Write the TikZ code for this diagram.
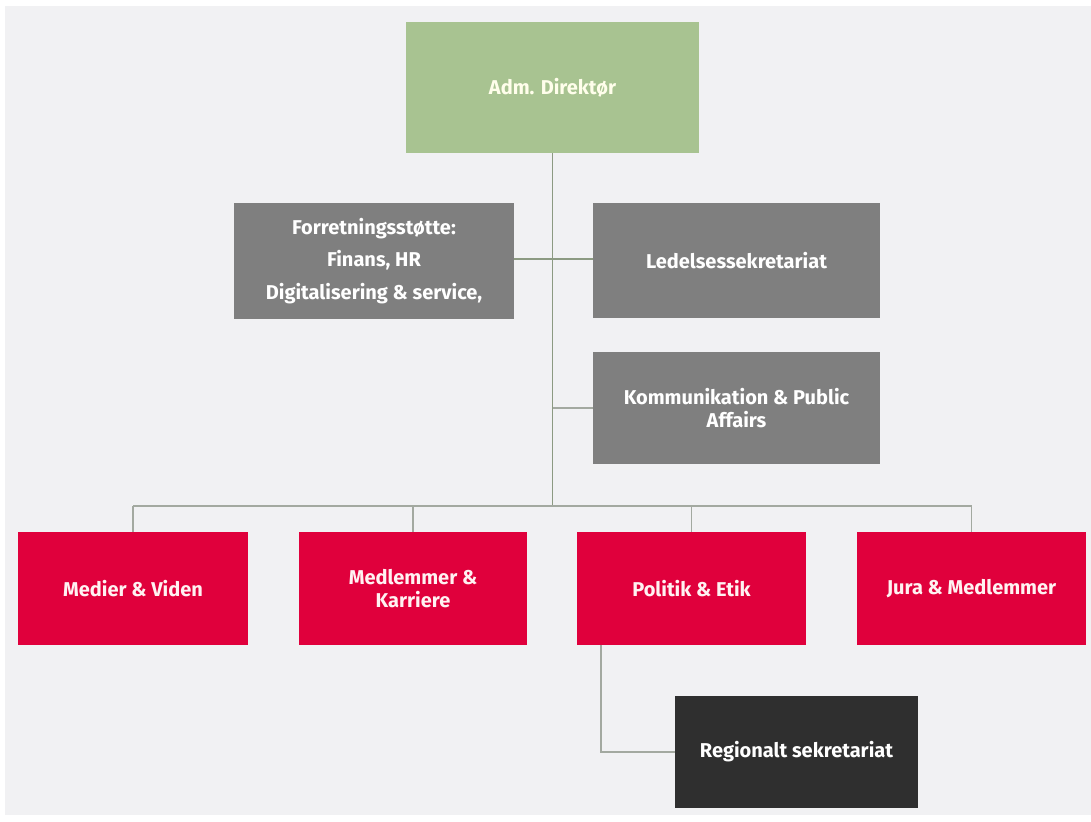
\documentclass[tikz,border=0pt]{standalone}
\usepackage{fontspec}
\setmainfont{Fira Sans}
\definecolor{bg}{HTML}{F1F1F3}
\definecolor{dirgreen}{HTML}{A8C391}
\definecolor{midgrey}{HTML}{7F7F7F}
\definecolor{redbox}{HTML}{E0003C}
\definecolor{darkbox}{HTML}{2F2F2F}
\definecolor{trunkline}{HTML}{8C9A82}
\definecolor{busline}{HTML}{A3A9A0}
\tikzset{
  box/.style={draw=none, text=white, align=center, inner sep=2pt,
    font=\fontsize{20}{24}\selectfont\bfseries},
  dirbox/.style={box, fill=dirgreen, text=white!92!yellow},
  greybox/.style={box, fill=midgrey},
  deptbox/.style={box, fill=redbox, text=white!95!red},
  regbox/.style={box, fill=darkbox},
  conn/.style={draw=trunkline, line width=1.8pt},
  busconn/.style={draw=busline, line width=1.8pt}
}
\begin{document}
\begin{tikzpicture}[x=1pt,y=-1pt]
\useasboundingbox (0,0) rectangle (1091,821);
\fill[white] (0,0) rectangle (1091,821);
\fill[bg] (5,6) rectangle (1091,815);

\node[dirbox, minimum width=293pt, minimum height=131pt] (dir) at (552.5,87.5) {Adm. Direktør};
\node[greybox, minimum width=280pt, minimum height=116pt, font=\fontsize{20}{32.5}\selectfont\bfseries] (fs) at (374,261) {Forretningsstøtte:\\Finans, HR\\Digitalisering \& service,};
\node[greybox, minimum width=287pt, minimum height=115pt] (led) at (736.5,260.5) {Ledelsessekretariat};
\node[greybox, minimum width=287pt, minimum height=112pt, font=\fontsize{20}{23}\selectfont\bfseries] (kom) at (736.5,408) {Kommunikation \& Public\\Affairs};

\node[deptbox, minimum width=230pt, minimum height=113pt] (med) at (133,588.5) {Medier \& Viden};
\node[deptbox, minimum width=228pt, minimum height=113pt, font=\fontsize{20}{23}\selectfont\bfseries] (mk) at (413,588.5) {Medlemmer \&\\Karriere};
\node[deptbox, minimum width=229pt, minimum height=113pt] (pe) at (691.5,588.5) {Politik \& Etik};
\node[deptbox, minimum width=229pt, minimum height=113pt] (jm) at (971.5,588.5) {Jura \& Medlemmer};

\node[regbox, minimum width=243pt, minimum height=112pt] (reg) at (796.5,752) {Regionalt sekretariat};

\coordinate (b) at (552.5,506);
\coordinate (r) at (601,752);
\coordinate (h) at (552.5,259);

\draw[conn] (dir.south) -- (b);
\draw[conn] (fs.east |- h) -- (led.west |- h);
\draw[busconn] (kom.west) -- (kom.west -| dir.south);
\draw[busconn] (med.north |- b) -- (jm.north |- b);
\draw[busconn] (med.north) -- (med.north |- b);
\draw[busconn] (mk.north) -- (mk.north |- b);
\draw[busconn] (pe.north) -- (pe.north |- b);
\draw[busconn] (jm.north) -- (jm.north |- b);
\draw[busconn] (pe.south -| r) -- (r) -- (reg.west);
\end{tikzpicture}
\end{document}
